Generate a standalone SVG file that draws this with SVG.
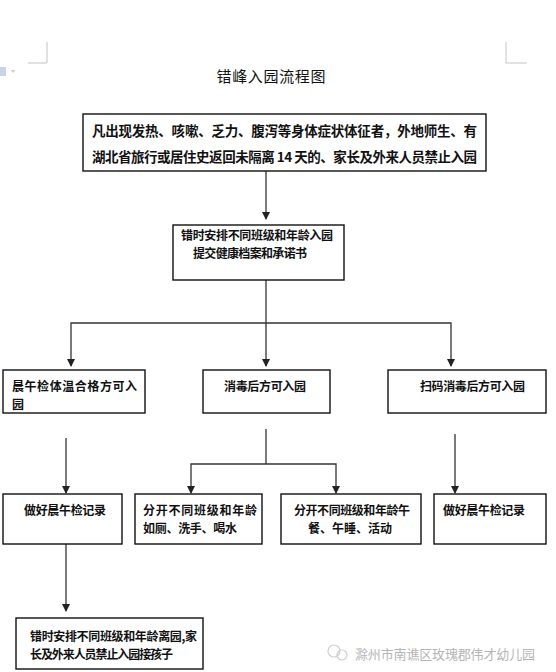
<svg xmlns="http://www.w3.org/2000/svg" width="556" height="672" viewBox="0 0 556 672">
<style>
.bx{fill:#fff;stroke:#111;stroke-width:1.4}
.t{font-family:"Noto Sans CJK SC","Liberation Sans",sans-serif;font-weight:bold;fill:#111;dominant-baseline:central}
.ln{fill:none;stroke:#333;stroke-width:1.3}
.cm{fill:none;stroke:#c4c4c4;stroke-width:1}
</style>
<defs>
<marker id="ad" markerUnits="userSpaceOnUse" markerWidth="8" markerHeight="9" refX="4" refY="8" viewBox="0 0 8 9">
<path d="M0,1 L8,1 L4,9 Z" fill="#222"/>
</marker>
</defs>
<rect width="556" height="672" fill="#fff"/>
<path class="cm" d="M28,63 H47 V42 M527,63 H506 V42"/>
<g id="ui-icon">
<rect x="0" y="67" width="6" height="9" fill="#c9d3e6"/>
<path d="M11,70 L15,70 L13,73 Z" fill="#c8c8c8"/>
</g>
<text x="271" y="75" font-family="'Noto Sans CJK SC',sans-serif" font-size="15" fill="#111" text-anchor="middle" dominant-baseline="central" textLength="109" lengthAdjust="spacing">错峰入园流程图</text>

<g id="connectors">
<line class="ln" x1="266" y1="171" x2="266" y2="219" marker-end="url(#ad)"/>
<line class="ln" x1="266" y1="280" x2="266" y2="366" marker-end="url(#ad)"/>
<polyline class="ln" points="71,366 71,323 451,323 451,366" marker-start="url(#ad)" marker-end="url(#ad)"/>
<line class="ln" x1="266" y1="429" x2="266" y2="464"/>
<polyline class="ln" points="191,493 191,464 336,464 336,493" marker-start="url(#ad)" marker-end="url(#ad)"/>
<line class="ln" x1="66" y1="438" x2="66" y2="493" marker-end="url(#ad)"/>
<line class="ln" x1="455" y1="434" x2="455" y2="493" stroke="#666" marker-end="url(#ad)"/>
<line class="ln" x1="66" y1="544" x2="66" y2="611" marker-end="url(#ad)"/>
</g>

<g id="n1">
<rect class="bx" x="83" y="114" width="403" height="57"/>
<text class="t" x="92" y="130" font-size="13.5" textLength="385" lengthAdjust="spacing">凡出现发热、咳嗽、乏力、腹泻等身体症状体征者，外地师生、有</text>
<text class="t" x="92" y="156" font-size="13.5" textLength="385" lengthAdjust="spacing">湖北省旅行或居住史返回未隔离 14 天的、家长及外来人员禁止入园</text>
</g>
<g id="n2">
<rect class="bx" x="173" y="225" width="171" height="55"/>
<text class="t" x="181" y="234" font-size="12" textLength="152" lengthAdjust="spacing">错时安排不同班级和年龄入园</text>
<text class="t" x="193" y="252" font-size="12" textLength="114" lengthAdjust="spacing">提交健康档案和承诺书</text>
</g>
<g id="n3">
<rect class="bx" x="3" y="370" width="142" height="43"/>
<text class="t" x="12" y="385" font-size="12" textLength="125" lengthAdjust="spacing">晨午检体温合格方可入</text>
<text class="t" x="12" y="403" font-size="12">园</text>
</g>
<g id="n4">
<rect class="bx" x="203" y="370" width="127" height="43"/>
<text class="t" x="224" y="385" font-size="12" textLength="82" lengthAdjust="spacing">消毒后方可入园</text>
</g>
<g id="n5">
<rect class="bx" x="388" y="370" width="158" height="43"/>
<text class="t" x="420" y="385" font-size="12" textLength="105" lengthAdjust="spacing">扫码消毒后方可入园</text>
</g>
<g id="n6">
<rect class="bx" x="3" y="494" width="119" height="50"/>
<text class="t" x="24" y="509" font-size="12" textLength="82" lengthAdjust="spacing">做好晨午检记录</text>
</g>
<g id="n7">
<rect class="bx" x="135" y="494" width="127" height="50"/>
<text class="t" x="143" y="509" font-size="12" textLength="114" lengthAdjust="spacing">分开不同班级和年龄</text>
<text class="t" x="143" y="527" font-size="12" textLength="94" lengthAdjust="spacing">如厕、洗手、喝水</text>
</g>
<g id="n8">
<rect class="bx" x="281" y="494" width="140" height="50"/>
<text class="t" x="294" y="509" font-size="12" textLength="116" lengthAdjust="spacing">分开不同班级和年龄午</text>
<text class="t" x="308" y="527" font-size="12" textLength="84" lengthAdjust="spacing">餐、午睡、活动</text>
</g>
<g id="n9">
<rect class="bx" x="434" y="494" width="112" height="50"/>
<text class="t" x="443" y="509" font-size="12" textLength="82" lengthAdjust="spacing">做好晨午检记录</text>
</g>
<g id="n10">
<rect class="bx" x="16" y="618" width="187" height="51"/>
<text class="t" x="30" y="635" font-size="12" textLength="167" lengthAdjust="spacing">错时安排不同班级和年龄离园,家</text>
<text class="t" x="30" y="653" font-size="12" textLength="143" lengthAdjust="spacing">长及外来人员禁止入园接孩子</text>
</g>
<g id="watermark">
<circle cx="334" cy="651" r="6" fill="none" stroke="#cfcfcf" stroke-width="1.2"/>
<circle cx="342" cy="655" r="5" fill="none" stroke="#cfcfcf" stroke-width="1.2"/>
<text x="355" y="653" font-family="'Noto Sans CJK SC',sans-serif" font-size="13" fill="#b5b5b5" dominant-baseline="central" textLength="180" lengthAdjust="spacing">滁州市南谯区玫瑰郡伟才幼儿园</text>
</g>
</svg>
